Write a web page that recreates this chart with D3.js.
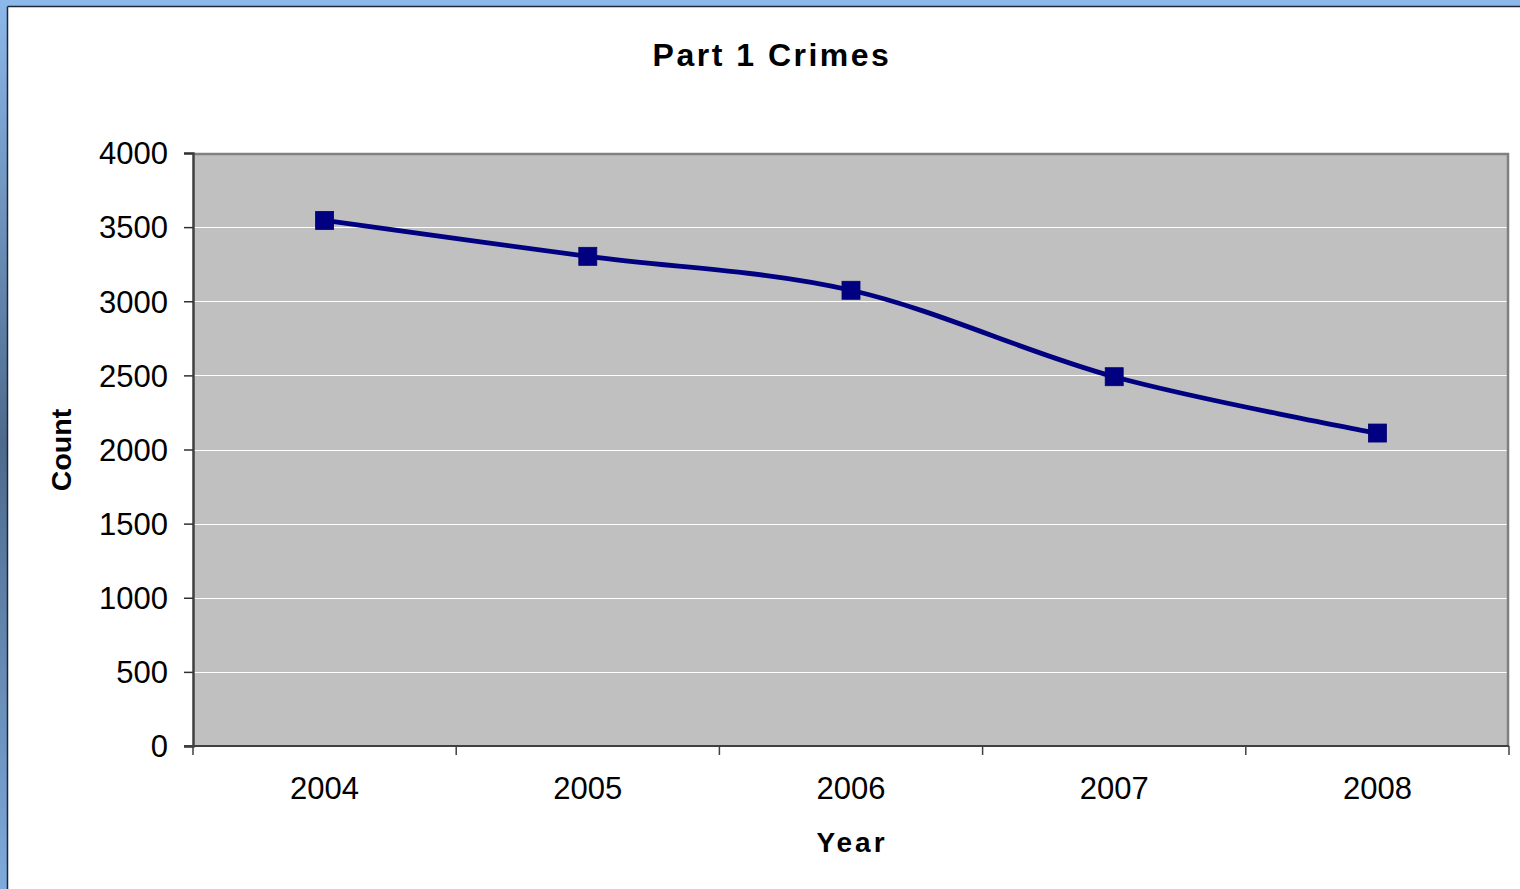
<!DOCTYPE html>
<html>
<head>
<meta charset="utf-8">
<script src="https://cdn.jsdelivr.net/npm/d3@7"></script>
<style>
  html, body { margin: 0; padding: 0; background: #fff; }
  svg { display: block; }
</style>
</head>
<body>
<svg id="chart" width="1520" height="889"></svg>
<script>
const years = ["2004", "2005", "2006", "2007", "2008"];
const counts = [3545, 3303, 3074, 2491, 2111];
const yTicks = [0, 500, 1000, 1500, 2000, 2500, 3000, 3500, 4000];
const titleText = "Part 1 Crimes";
const xLabel = "Year";
const yLabel = "Count";

(function () {
const svg = d3.select("#chart");
const W = 1520, H = 889;
const font = "'Liberation Sans', Arial, sans-serif";

// window frame
const defs = svg.append("defs");
const g1 = defs.append("linearGradient").attr("id", "leftGrad")
  .attr("x1", 0).attr("y1", 0).attr("x2", 0).attr("y2", 1);
g1.append("stop").attr("offset", "0%").attr("stop-color", "#8cb8ea");
g1.append("stop").attr("offset", "50%").attr("stop-color", "#4d6a8c");
g1.append("stop").attr("offset", "100%").attr("stop-color", "#7eaadc");
svg.append("rect").attr("x", 0).attr("y", 0).attr("width", W).attr("height", H).attr("fill", "#fff");
svg.append("rect").attr("x", 0).attr("y", 0).attr("width", W).attr("height", 6).attr("fill", "#8cb8ea");
svg.append("rect").attr("x", 0).attr("y", 0).attr("width", 7).attr("height", H).attr("fill", "url(#leftGrad)");
svg.append("line").attr("x1", 7.5).attr("x2", W).attr("y1", 6.5).attr("y2", 6.5).attr("stroke", "#1b2636").attr("stroke-width", 1.5);
svg.append("line").attr("x1", 7.5).attr("x2", 7.5).attr("y1", 6.5).attr("y2", H).attr("stroke", "#1b2636").attr("stroke-width", 1.5);

// plot area
const pL = 193, pR = 1509, pT = 153, pB = 746;

const x = d3.scaleBand().domain(years).range([pL, pR]);
const y = d3.scaleLinear().domain([0, 4000]).range([pB, pT]);

svg.append("rect").attr("x", pL).attr("y", pT).attr("width", pR - pL).attr("height", pB - pT)
  .attr("fill", "#c0c0c0");

// gridlines
svg.append("g").selectAll("line").data(yTicks.filter(d => d > 0 && d < 4000)).join("line")
  .attr("x1", pL).attr("x2", pR)
  .attr("y1", d => Math.round(y(d)) + 0.5).attr("y2", d => Math.round(y(d)) + 0.5)
  .attr("stroke", "#ffffff").attr("stroke-width", 1.2);

// border top/right
svg.append("path")
  .attr("d", `M${pL},${pT + 1} H${pR - 1} V${pB}`)
  .attr("fill", "none").attr("stroke", "#808080").attr("stroke-width", 2.5);

// y axis
const yAxis = d3.axisLeft(y).tickValues(yTicks).tickSize(9).tickPadding(16).tickFormat(d3.format("d"));
const gy = svg.append("g").attr("transform", `translate(${pL},0)`).call(yAxis);
gy.select(".domain").attr("stroke", "#404040").attr("stroke-width", 2.5);
gy.selectAll(".tick line").attr("stroke", "#303030").attr("stroke-width", 1.5);
gy.selectAll(".tick text").attr("font-family", font).attr("font-size", 31).attr("fill", "#000").attr("dy", "0.35em");

// x axis
const xAxis = d3.axisBottom(x).tickSize(0).tickPadding(31);
const gx = svg.append("g").attr("transform", `translate(0,${pB})`).call(xAxis);
gx.select(".domain").remove();
gx.selectAll(".tick text").attr("font-family", font).attr("font-size", 31).attr("fill", "#000");
svg.append("line").attr("x1", pL - 9).attr("x2", pR).attr("y1", pB).attr("y2", pB)
  .attr("stroke", "#404040").attr("stroke-width", 2);
const bounds = years.map(d => x(d)).concat([pR]);
svg.append("g").selectAll("line").data(bounds).join("line")
  .attr("x1", d => d).attr("x2", d => d).attr("y1", pB).attr("y2", pB + 9)
  .attr("stroke", "#404040").attr("stroke-width", 1.5);

// line
const pts = years.map((d, i) => [x(d) + x.bandwidth() / 2, y(counts[i])]);
const line = d3.line().curve(d3.curveCatmullRom.alpha(0));
svg.append("path").attr("d", line(pts)).attr("fill", "none")
  .attr("stroke", "#000080").attr("stroke-width", 4.8).attr("stroke-linejoin", "round");

// markers
const ms = 18;
svg.append("g").selectAll("rect").data(pts).join("rect")
  .attr("x", d => d[0] - ms / 2).attr("y", d => d[1] - ms / 2)
  .attr("width", ms).attr("height", ms)
  .attr("fill", "#000080").attr("stroke", "#000070").attr("stroke-width", 0.8);

// title & axis labels
svg.append("text").attr("x", 772).attr("y", 66).attr("text-anchor", "middle")
  .attr("font-family", font).attr("font-weight", "bold").attr("font-size", 32)
  .attr("letter-spacing", 2.5).text(titleText);
svg.append("text").attr("x", 852).attr("y", 852).attr("text-anchor", "middle")
  .attr("font-family", font).attr("font-weight", "bold").attr("font-size", 28)
  .attr("letter-spacing", 3).text(xLabel);
svg.append("text").attr("transform", "translate(71,450) rotate(-90)").attr("text-anchor", "middle")
  .attr("font-family", font).attr("font-weight", "bold").attr("font-size", 28.5)
  .text(yLabel);
})();
</script>
</body>
</html>
